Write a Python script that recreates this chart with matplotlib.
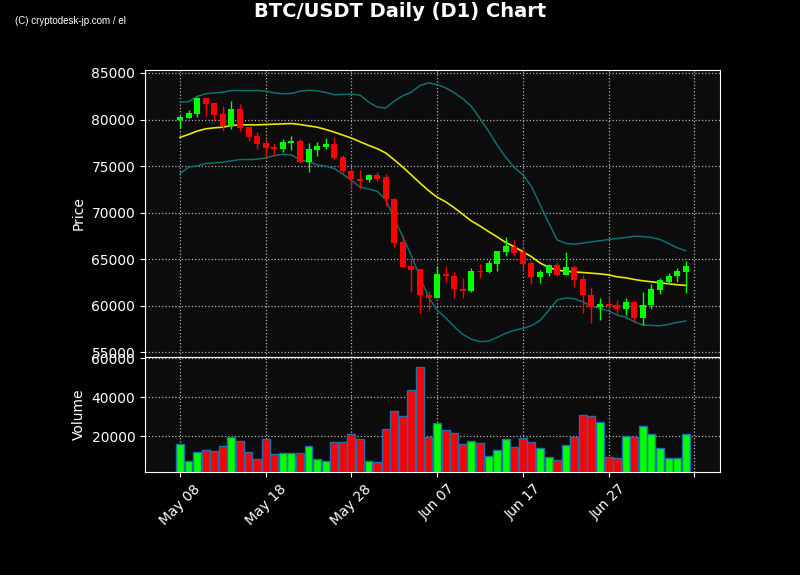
import matplotlib
matplotlib.use('Agg')
import matplotlib.pyplot as plt
import matplotlib.dates as mdates
import numpy as np
import pandas as pd

# ---- data ----
dates = pd.date_range('2025-05-08', periods=60, freq='D')

opens = [79965, 80177, 80603, 82270, 81738, 80567, 79326, 81099, 79184, 78227,
         77482, 77057, 76844, 77518, 77695, 75497, 76738, 77057, 77376, 75993,
         74504, 73653, 73475, 74007, 73795, 71525, 66844, 64291, 63972, 61206,
         60887, 63440, 63228, 61844, 61560, 63794, 63688, 64539, 65816, 66348,
         65816, 64610, 63050, 63582, 64398, 63369, 64185, 62908, 61206, 59858,
         60248, 60142, 59646, 60461, 58688, 60071, 61667, 62589, 63157, 63688]
highs = [80460, 81028, 82411, 82300, 81844, 81418, 82021, 81702, 79200, 78617,
         77872, 77447, 77872, 78227, 77943, 77447, 77589, 77979, 78085, 76170,
         74681, 74610, 74185, 74397, 74149, 71550, 67589, 65036, 64000, 61560,
         64327, 64256, 63617, 62979, 64043, 64504, 64930, 65900, 67376, 67021,
         66454, 64859, 63830, 64504, 64717, 65781, 64362, 63333, 62021, 60887,
         61099, 60638, 60887, 60480, 61490, 62341, 62979, 63546, 64078, 64823]
lows = [79110, 80150, 80284, 80390, 79858, 78794, 78936, 78723, 77660, 76809,
        75993, 76135, 76560, 76702, 75319, 74326, 76135, 76880, 75745, 74220,
        72553, 72553, 73263, 73369, 70710, 66277, 64078, 61490, 59291, 59540,
        60850, 62554, 60851, 60851, 61540, 62979, 63511, 63723, 65390, 65390,
        63972, 62341, 62447, 63262, 63262, 63333, 61986, 59256, 58192, 58476,
        59717, 59078, 59007, 58299, 57944, 59717, 61312, 62341, 62518, 61383]
closes = [80250, 80674, 82270, 81667, 80496, 79326, 81099, 79114, 78156, 77411,
          76986, 76844, 77589, 77730, 75497, 76844, 77163, 77376, 75922, 74433,
          73582, 73440, 74007, 73653, 71454, 66773, 64220, 63866, 61135, 60887,
          63440, 63157, 61773, 61560, 63759, 63688, 64610, 65887, 66418, 65710,
          64539, 63050, 63652, 64398, 63369, 64185, 62802, 61135, 59858, 60248,
          60035, 59646, 60461, 58688, 60142, 61773, 62731, 63228, 63759, 64291]
volumes = [15900, 7180, 11800, 12820, 12310, 14870, 19490, 17610, 11800, 8380,
           18460, 10770, 11280, 11280, 11280, 14870, 8210, 7180, 16920, 16920,
           21030, 18460, 7180, 6670, 23590, 32820, 30260, 43600, 55400, 19490,
           26670, 23080, 21540, 15900, 17440, 16410, 9750, 12820, 18460, 14360,
           18970, 16920, 13850, 9230, 7690, 15380, 19830, 30770, 30260, 27180,
           9230, 8720, 20000, 19490, 25130, 21030, 13850, 8720, 8720, 21030]
bb_upper = [81879, 81915, 82482, 82766, 82872, 82943, 83120, 83120, 83120, 83120,
            83050, 82872, 82766, 82801, 83050, 83156, 83085, 82908, 82660, 82695,
            82730, 82624, 81879, 81347, 81241, 81986, 82553, 82943, 83652, 83936,
            83759, 83404, 82872, 82234, 81418, 80106, 78759, 77270, 75958, 74858,
            74078, 72837, 70887, 68936, 67092, 66702, 66631, 66738, 66880, 66986,
            67128, 67234, 67341, 67483, 67447, 67341, 67128, 66702, 66241, 65922]
bb_mid = [78085, 78404, 78759, 79007, 79113, 79184, 79362, 79433, 79433, 79433,
          79468, 79504, 79539, 79574, 79468, 79326, 79184, 78936, 78652, 78333,
          78014, 77624, 77234, 76880, 76418, 75674, 74894, 74043, 73192, 72376,
          71667, 71170, 70532, 69823, 69114, 68582, 67979, 67412, 66809, 66348,
          65816, 65284, 64610, 64149, 63830, 63723, 63652, 63582, 63511, 63440,
          63333, 63121, 63015, 62837, 62695, 62589, 62483, 62376, 62270, 62199]
bb_lower = [74185, 74894, 75036, 75284, 75355, 75426, 75568, 75709, 75709, 75745,
            75887, 76135, 76277, 76206, 75674, 75461, 75142, 75000, 74752, 74149,
            73475, 72766, 72553, 72305, 71419, 69362, 67411, 65390, 63086, 60958,
            59540, 58724, 57766, 56951, 56419, 56171, 56206, 56631, 57057, 57376,
            57589, 57872, 58440, 59469, 60638, 60851, 60780, 60426, 59965, 59717,
            59469, 59008, 58795, 58299, 57944, 57909, 57873, 58015, 58228, 58369]
price_ticks = [55000, 60000, 65000, 70000, 75000, 80000, 85000]
volume_ticks = [20000, 40000, 60000]

# ---- figure ----
W, H = 800, 575
fig = plt.figure(figsize=(8, 5.75), dpi=100, facecolor='black')
ax = fig.add_axes([145 / W, 1 - 356.5 / H, 575 / W, (356.5 - 70) / H])
axv = fig.add_axes([145 / W, 1 - 472 / H, 575 / W, (472 - 357) / H], sharex=ax)

x = mdates.date2num(dates.to_pydatetime())
o = np.array(opens, float)
c = np.array(closes, float)
hi = np.array(highs, float)
lo = np.array(lows, float)
up = c >= o
cols = np.where(up, '#00ff00', '#ff0000')

for a in (ax, axv):
    a.set_facecolor('#0c0c0c')
    for s in a.spines.values():
        s.set_color('white')
    a.tick_params(colors='white', labelsize=10)
    a.grid(True, linestyle=':', color='#b0b0b0', linewidth=0.9)
    a.set_axisbelow(True)

# bands
ax.plot(x, bb_upper, color='#0a7070', lw=1.1, zorder=2)
ax.plot(x, bb_lower, color='#0a7070', lw=1.1, zorder=2)
ax.plot(x, bb_mid, color='#e8e800', lw=1.2, zorder=2)

# candles
ax.vlines(x, lo, hi, colors=cols, linewidth=1.0, zorder=3)
body_h = np.maximum(np.abs(c - o), 60)
ax.bar(x, body_h, bottom=np.minimum(o, c), width=0.7, color=cols, zorder=4,
       linewidth=0)

ax.set_ylim(54570, 85320)
ax.set_yticks(price_ticks)
ax.set_yticklabels([str(v) for v in price_ticks])
ax.set_ylabel('Price', color='white', fontsize=10)
plt.setp(ax.get_xticklabels(), visible=False)

# volume
axv.bar(x, volumes, width=0.92, color=cols, edgecolor='#1f6fb0', linewidth=1.0,
        zorder=3)
axv.set_ylim(1700, 60700)
axv.set_yticks(volume_ticks)
axv.set_yticklabels([str(v) for v in volume_ticks])
axv.set_ylabel('Volume', color='white', fontsize=10)

# x axis
tick_dates = [dates[0] + pd.Timedelta(days=10 * k) for k in range(7)]
tick_x = mdates.date2num([d.to_pydatetime() for d in tick_dates])
tick_labels = [d.strftime('%b %d') for d in tick_dates[:-1]] + ['']
axv.set_xticks(tick_x)
axv.set_xticklabels(tick_labels, rotation=45, ha='center')
axv.set_xlim(x[0] - 4.08, x[0] + 63.0)

fig.text(0.5, 0.997, 'BTC/USDT Daily (D1) Chart', ha='center', va='top',
         fontsize=14, fontweight='bold', color='white')
fig.text(15 / W, 1 - 21 / H, '(C) cryptodesk-jp.com / el', ha='left',
         va='center', fontsize=7, color='white', family='Liberation Sans')

fig.savefig('out.png', dpi=100, facecolor='black')
